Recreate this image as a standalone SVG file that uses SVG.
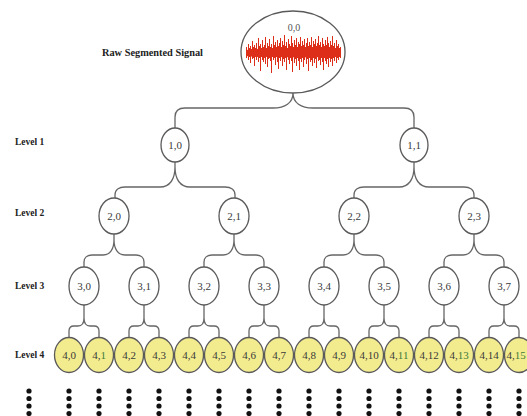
<svg xmlns="http://www.w3.org/2000/svg" xmlns:xlink="http://www.w3.org/1999/xlink" width="527" height="416" viewBox="0 0 527 416">
<style>
.n{fill:#fff;stroke:#5a5a5a;stroke-width:1.3}
.y{fill:#f3ec8e;stroke:#5a5a5a;stroke-width:1.3}
.t{font-family:"Liberation Serif",serif;font-size:11px;fill:#3a3a3a;text-anchor:middle}
.g{fill:#3d7a3a}
.lv{font-family:"Liberation Serif",serif;font-size:9.5px;font-weight:bold;fill:#222}
.c{fill:none;stroke:#666;stroke-width:1.3}
.sig{fill:none;stroke:#dc2e18;stroke-width:1}
</style>
<defs>
<path id="b1" d="M0,162 L0,167 C0,179 -5,187 -15,187 L-50,187 C-56,187 -60,190 -60,195 L-60,198 M0,167 C0,179 5,187 15,187 L50,187 C56,187 60,190 60,195 L60,198"/>
<path id="b2" d="M0,234 L0,240 C0,249 -4,255 -11,255 L-22,255 C-27,255 -30,258 -30,262 L-30,267 M0,240 C0,249 4,255 11,255 L22,255 C27,255 30,258 30,262 L30,267"/>
<path id="b3" d="M0,305 L0,318 C0,323 -2,326 -6,326 L-10,326 C-13,326 -15,328 -15,331 L-15,338 M0,318 C0,323 2,326 6,326 L10,326 C13,326 15,328 15,331 L15,338"/>
<g id="dots" fill="#111"><circle cx="0" cy="391" r="2.6"/><circle cx="0" cy="398.5" r="2.6"/><circle cx="0" cy="406" r="2.6"/><circle cx="0" cy="413.5" r="2.6"/></g>
</defs>
<rect width="527" height="416" fill="#fff"/>

<g id="labels">
<text class="lv" x="102" y="56" textLength="101" lengthAdjust="spacingAndGlyphs">Raw Segmented Signal</text>
<text class="lv" x="15" y="145">Level 1</text>
<text class="lv" x="15" y="216">Level 2</text>
<text class="lv" x="15" y="289">Level 3</text>
<text class="lv" x="15" y="358">Level 4</text>
</g>

<g id="connectors" class="c">
<path d="M293,93 C293,103 285,108 273,108 L185,108 C179,108 175,111 175,117 L175,128 M293,93 C293,103 301,108 313,108 L404,108 C410,108 414,111 414,117 L414,128"/>
<use href="#b1" x="175"/><use href="#b1" x="414"/>
<use href="#b2" x="114"/><use href="#b2" x="234"/><use href="#b2" x="354"/><use href="#b2" x="474"/>
<use href="#b3" x="84"/><use href="#b3" x="144"/><use href="#b3" x="204"/><use href="#b3" x="264"/>
<use href="#b3" x="324"/><use href="#b3" x="384"/><use href="#b3" x="444"/><use href="#b3" x="504"/>
</g>

<g id="n0_0">
<ellipse class="n" cx="293" cy="52" rx="52" ry="41"/>
<text class="t" x="294" y="31" style="font-size:10px;fill:#555">0,0</text>
<path d="M246,50 L256,49 L270,48.5 L290,49 L310,48.5 L330,49 L340,50 L340,56 L325,57 L300,57.5 L275,57 L255,57 L246,56 Z" fill="#e03a20"/>
<path class="sig" transform="translate(0.5,0)" d="M246,47V58M247,50V56M248,44V60M249,48V57M250,46V63M251,49V56M252,41V59M253,47V58M254,45V66M255,48V57M256,43V60M257,49V56M258,38V62M259,46V58M260,44V71M261,48V57M262,40V60M263,47V62M264,45V58M265,37V64M266,48V56M267,43V67M268,46V59M269,39V58M270,47V61M271,44V73M272,48V57M273,36V60M274,45V58M275,42V65M276,47V57M277,40V62M278,46V69M279,43V58M280,38V61M281,47V57M282,41V66M283,45V59M284,35V62M285,46V58M286,42V70M287,48V57M288,39V60M289,44V64M290,46V58M291,36V61M292,43V72M293,47V57M294,40V63M295,45V59M296,38V66M297,47V58M298,42V61M299,44V70M300,37V59M301,46V62M302,41V58M303,45V67M304,39V60M305,47V57M306,43V64M307,38V59M308,46V71M309,42V58M310,45V62M311,37V60M312,47V66M313,41V58M314,44V63M315,39V59M316,46V68M317,43V57M318,36V61M319,45V60M320,42V65M321,47V58M322,38V62M323,44V70M324,46V58M325,40V61M326,45V64M327,37V59M328,43V67M329,47V58M330,41V62M331,45V59M332,36V66M333,46V58M334,43V61M335,48V57M336,40V63M337,46V58M338,44V60M339,48V57M340,47V58"/>
</g>

<g id="n1_0"><ellipse class="n" cx="175" cy="145" rx="14" ry="17"/><text class="t" x="175" y="149">1,0</text></g>
<g id="n1_1"><ellipse class="n" cx="414" cy="145" rx="14" ry="17"/><text class="t" x="414" y="149">1,1</text></g>

<g id="n2_0"><ellipse class="n" cx="114" cy="216" rx="15" ry="18"/><text class="t" x="114" y="220">2,0</text></g>
<g id="n2_1"><ellipse class="n" cx="234" cy="216" rx="15" ry="18"/><text class="t" x="234" y="220">2,1</text></g>
<g id="n2_2"><ellipse class="n" cx="354" cy="216" rx="15" ry="18"/><text class="t" x="354" y="220">2,2</text></g>
<g id="n2_3"><ellipse class="n" cx="474" cy="216" rx="15" ry="18"/><text class="t" x="474" y="220">2,3</text></g>

<g id="n3_0"><ellipse class="n" cx="84" cy="286" rx="15" ry="19"/><text class="t" x="84" y="290">3,0</text></g>
<g id="n3_1"><ellipse class="n" cx="144" cy="286" rx="15" ry="19"/><text class="t" x="144" y="290">3,1</text></g>
<g id="n3_2"><ellipse class="n" cx="204" cy="286" rx="15" ry="19"/><text class="t" x="204" y="290">3,2</text></g>
<g id="n3_3"><ellipse class="n" cx="264" cy="286" rx="15" ry="19"/><text class="t" x="264" y="290">3,3</text></g>
<g id="n3_4"><ellipse class="n" cx="324" cy="286" rx="15" ry="19"/><text class="t" x="324" y="290">3,4</text></g>
<g id="n3_5"><ellipse class="n" cx="384" cy="286" rx="15" ry="19"/><text class="t" x="384" y="290">3,5</text></g>
<g id="n3_6"><ellipse class="n" cx="444" cy="286" rx="15" ry="19"/><text class="t" x="444" y="290">3,6</text></g>
<g id="n3_7"><ellipse class="n" cx="504" cy="286" rx="15" ry="19"/><text class="t" x="504" y="290">3,7</text></g>

<g id="n4_0"><ellipse class="y" cx="69" cy="355" rx="14.5" ry="17.5"/><text class="t" x="69" y="359">4,0</text></g>
<g id="n4_1"><ellipse class="y" cx="99" cy="355" rx="14.5" ry="17.5"/><text class="t" x="99" y="359">4,<tspan class="g">1</tspan></text></g>
<g id="n4_2"><ellipse class="y" cx="129" cy="355" rx="14.5" ry="17.5"/><text class="t" x="129" y="359">4,2</text></g>
<g id="n4_3"><ellipse class="y" cx="159" cy="355" rx="14.5" ry="17.5"/><text class="t" x="159" y="359">4,3</text></g>
<g id="n4_4"><ellipse class="y" cx="189" cy="355" rx="14.5" ry="17.5"/><text class="t" x="189" y="359">4,4</text></g>
<g id="n4_5"><ellipse class="y" cx="219" cy="355" rx="14.5" ry="17.5"/><text class="t" x="219" y="359">4,5</text></g>
<g id="n4_6"><ellipse class="y" cx="249" cy="355" rx="14.5" ry="17.5"/><text class="t" x="249" y="359">4,6</text></g>
<g id="n4_7"><ellipse class="y" cx="279" cy="355" rx="14.5" ry="17.5"/><text class="t" x="279" y="359">4,7</text></g>
<g id="n4_8"><ellipse class="y" cx="309" cy="355" rx="14.5" ry="17.5"/><text class="t" x="309" y="359">4,8</text></g>
<g id="n4_9"><ellipse class="y" cx="339" cy="355" rx="14.5" ry="17.5"/><text class="t" x="339" y="359">4,9</text></g>
<g id="n4_10"><ellipse class="y" cx="369" cy="355" rx="14.5" ry="17.5"/><text class="t" x="369" y="359">4,10</text></g>
<g id="n4_11"><ellipse class="y" cx="399" cy="355" rx="14.5" ry="17.5"/><text class="t" x="399" y="359">4,<tspan class="g">11</tspan></text></g>
<g id="n4_12"><ellipse class="y" cx="429" cy="355" rx="14.5" ry="17.5"/><text class="t" x="429" y="359">4,12</text></g>
<g id="n4_13"><ellipse class="y" cx="459" cy="355" rx="14.5" ry="17.5"/><text class="t" x="459" y="359">4,<tspan class="g">13</tspan></text></g>
<g id="n4_14"><ellipse class="y" cx="489" cy="355" rx="14.5" ry="17.5"/><text class="t" x="489" y="359">4,14</text></g>
<g id="n4_15"><ellipse class="y" cx="519" cy="355" rx="14.5" ry="17.5"/><text class="t" x="516" y="359">4,<tspan class="g">15</tspan></text></g>

<g id="continuation">
<use href="#dots" x="29"/><use href="#dots" x="69"/><use href="#dots" x="99"/><use href="#dots" x="129"/>
<use href="#dots" x="159"/><use href="#dots" x="189"/><use href="#dots" x="219"/><use href="#dots" x="249"/>
<use href="#dots" x="279"/><use href="#dots" x="309"/><use href="#dots" x="339"/><use href="#dots" x="369"/>
<use href="#dots" x="399"/><use href="#dots" x="429"/><use href="#dots" x="459"/><use href="#dots" x="489"/>
<use href="#dots" x="519"/>
</g>
</svg>
